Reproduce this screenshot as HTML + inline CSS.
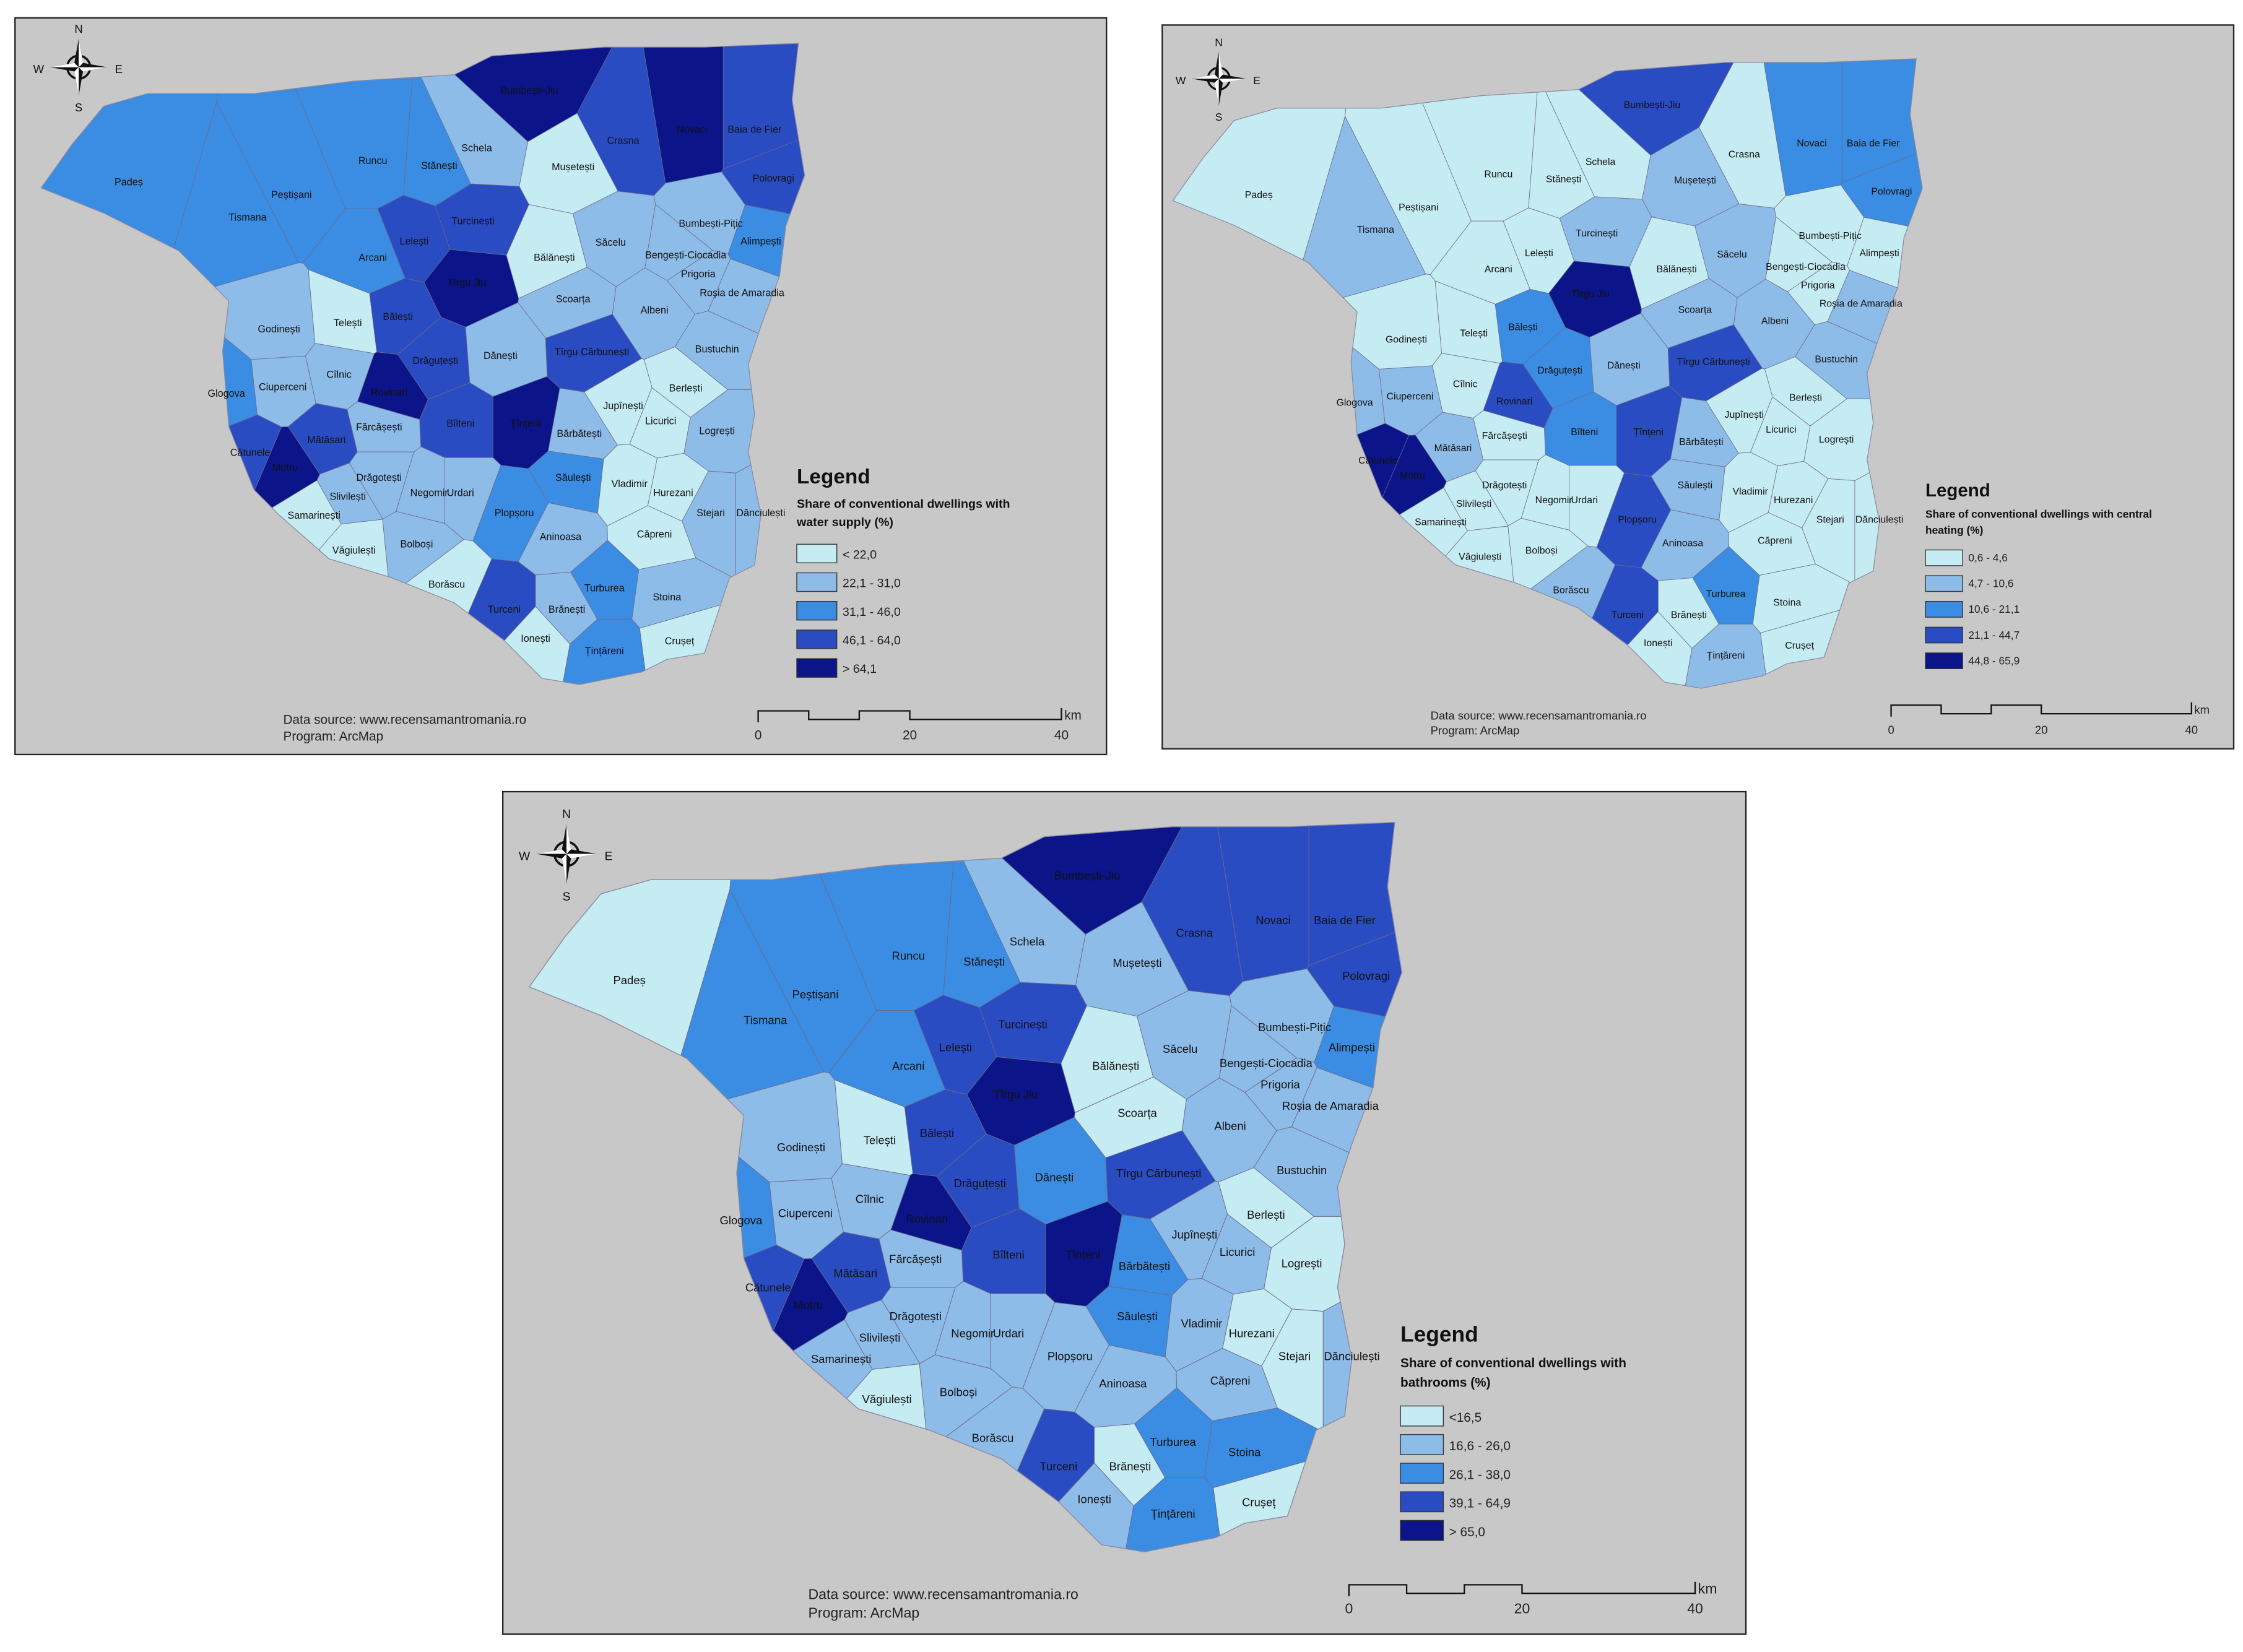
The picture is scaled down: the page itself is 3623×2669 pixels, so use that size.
<!DOCTYPE html>
<html><head><meta charset="utf-8"><style>
html,body{margin:0;padding:0;background:#fff}
svg{display:block}
text{font-family:"Liberation Sans",sans-serif}
</style></head><body>
<svg id="root" width="3623" height="2669" viewBox="0 0 1568 1155" preserveAspectRatio="none" xmlns="http://www.w3.org/2000/svg">
<rect width="1568" height="1155" fill="#fff"/>
<rect x="10.5" y="12.5" width="763" height="515" fill="#c8c8c8" stroke="#222" stroke-width="1"/>
<rect x="812.5" y="17.5" width="749" height="506" fill="#c8c8c8" stroke="#222" stroke-width="1"/>
<rect x="351.5" y="553.5" width="869" height="589" fill="#c8c8c8" stroke="#222" stroke-width="1"/>
<g id="maps"></g>
<g id="deco"></g>
</svg>
<script>
// ---- data ----
const communes = ["Padeș","Tismana","Peștișani","Runcu","Stănești","Schela","Bumbești-Jiu","Crasna","Novaci","Baia de Fier","Polovragi","Mușetești","Turcinești","Arcani","Lelești","Tîrgu Jiu","Bălănești","Săcelu","Bumbești-Pițic","Alimpești","Bengești-Ciocadia","Prigoria","Roșia de Amaradia","Scoarța","Albeni","Godinești","Telești","Bălești","Drăguțești","Dănești","Tîrgu Cărbunești","Bustuchin","Glogova","Ciuperceni","Cîlnic","Rovinari","Berlești","Jupînești","Licurici","Logrești","Bîlteni","Fărcășești","Țînțeni","Bărbătești","Mătăsari","Cătunele","Motru","Drăgotești","Slivilești","Negomir","Urdari","Săulești","Vladimir","Hurezani","Stejari","Dănciulești","Plopșoru","Aninoasa","Căpreni","Samarinești","Văgiulești","Bolboși","Borăscu","Turceni","Brănești","Turburea","Stoina","Ionești","Țințăreni","Crușeț"];
const siteX = [440,535,570,635,688,718,760,835,890,940,955,795,715,635,668,710,780,825,905,945,885,895,930,795,860,560,615,655,685,737,810,910,518,563,608,648,885,835,865,910,705,640,757,800,598,537,565,640,615,680,705,795,840,875,905,945,748,785,860,588,620,670,694,740,790,820,870,765,820,880];
const siteY = [685,713,695,668,672,658,612,652,643,643,682,673,716,745,732,765,745,733,718,732,743,758,773,778,787,802,797,792,827,823,820,818,853,848,838,852,849,863,875,883,877,880,877,885,890,900,912,920,935,932,932,920,925,932,948,948,948,967,965,950,978,973,1005,1025,1025,1008,1015,1048,1058,1050];
const waterClass = [2,2,2,2,2,1,4,3,4,3,3,0,3,2,3,4,0,1,1,2,1,1,1,1,1,1,0,3,3,1,3,1,2,1,1,4,0,0,0,1,3,1,4,1,3,3,4,1,1,1,1,2,0,0,1,1,2,1,0,0,0,1,0,3,1,2,1,0,2,0];
const heatClass  = [0,1,0,0,0,0,3,0,2,2,2,1,1,0,0,4,0,1,0,0,0,0,1,1,1,0,0,2,2,1,3,1,1,1,0,3,0,0,0,0,2,0,3,1,1,4,4,0,0,0,0,1,0,0,0,0,3,1,0,0,0,0,1,3,0,2,0,0,1,0];
const bathClass  = [0,2,2,2,2,1,4,3,3,3,3,1,3,2,3,4,0,1,1,2,1,1,1,0,1,1,0,3,3,2,3,1,2,1,1,4,0,1,1,0,3,1,4,2,3,3,4,1,1,1,1,2,1,0,0,1,1,1,1,1,0,1,1,3,0,2,2,1,2,0];
const waterLegend = ["< 22,0","22,1 - 31,0","31,1 - 46,0","46,1 - 64,0","> 64,1"];
const heatLegend = ["0,6 - 4,6","4,7 - 10,6","10,6 - 21,1","21,1 - 44,7","44,8 - 65,9"];
const bathLegend = ["<16,5","16,6 - 26,0","26,1 - 38,0","39,1 - 64,9","> 65,0"];

const palette = ["#c6ecf3","#8ebce8","#3a8de2","#2a4cc2","#0b1488"];
const outline = [[370,690],[395,655],[420,625],[455,615],[540,615],[620,605],[700,600],[730,585],[820,578],[900,578],[975,575],[970,620],[980,680],[965,720],[960,760],[945,800],[935,830],[940,870],[935,900],[945,950],[940,990],[920,1000],[910,1030],[900,1060],[870,1065],[850,1075],[800,1085],[770,1080],[740,1050],[700,1020],[650,1000],[600,985],[560,950],[540,930],[520,880],[515,820],[520,780],[480,740],[420,710]];
const NS="http://www.w3.org/2000/svg";
function mk(tag,attrs,parent){const e=document.createElementNS(NS,tag);for(const k in attrs)e.setAttribute(k,attrs[k]);parent.appendChild(e);return e;}
function clip(poly,nx,ny,c){
  const out=[];
  for(let i=0;i<poly.length;i++){
    const a=poly[i],b=poly[(i+1)%poly.length];
    const da=nx*a[0]+ny*a[1]-c,db=nx*b[0]+ny*b[1]-c;
    if(da<=0)out.push(a);
    if((da<0&&db>0)||(da>0&&db<0)){const t=da/(da-db);out.push([a[0]+t*(b[0]-a[0]),a[1]+t*(b[1]-a[1])]);}
  }
  return out;
}
const cells=siteX.map((x,i)=>{
  let p=outline.slice();
  for(let j=0;j<siteX.length;j++){if(j===i)continue;
    const nx=siteX[j]-x,ny=siteY[j]-siteY[i];
    const mx=(siteX[j]+x)/2,my=(siteY[j]+siteY[i])/2;
    p=clip(p,nx,ny,nx*mx+ny*my); if(!p.length)break;}
  return p;
});
const maps=document.getElementById('maps');
const deco=document.getElementById('deco');
function drawMap(name,transform,classes){
  const g=mk('g',{transform:transform},maps);
  
  
  cells.forEach((p,i)=>{
    if(p.length<3)return;
    const e=mk('polygon',{points:p.map(q=>q[0].toFixed(1)+','+q[1].toFixed(1)).join(' '),fill:palette[classes[i]],stroke:'#6a6a8a','stroke-width':0.4},g);
    
    
  });
  mk('polygon',{points:outline.map(q=>q.join(',')).join(' '),fill:'none',stroke:'#8a8aa0','stroke-width':0.6},g);
  communes.forEach((n,i)=>{
    const t=mk('text',{x:siteX[i],y:siteY[i]+3,'font-size':8,'text-anchor':'middle',fill:'#111'},g);
    t.textContent=n;
    
    
  });
}
drawMap('map-water-supply','translate(90,127) scale(0.875,0.879) translate(-440,-685)',waterClass);
drawMap('map-central-heating','translate(880,136) scale(0.859,0.863) translate(-440,-685)',heatClass);
drawMap('map-bathrooms','',bathClass);

function legend(name,x,y,title1,title2,labels,bw,bh,step,fs){
  const g=mk('g',{},deco);
  
  
  const t=mk('text',{x:x,y:y,'font-size':fs*1.7,'font-weight':'bold',fill:'#111'},g);t.textContent='Legend';
  const a=mk('text',{x:x,y:y+fs*2,'font-size':fs,'font-weight':'bold',fill:'#111'},g);a.textContent=title1;
  const b=mk('text',{x:x,y:y+fs*3.5,'font-size':fs,'font-weight':'bold',fill:'#111'},g);b.textContent=title2;
  labels.forEach((l,i)=>{
    const r=mk('rect',{x:x,y:y+fs*5+i*step,width:bw,height:bh,fill:palette[i],stroke:'#333','stroke-width':0.6},g);
    
    
    const tt=mk('text',{x:x+bw+4,y:y+fs*5+i*step+bh-3,'font-size':fs,fill:'#222'},g);tt.textContent=l;
  });
}
legend('legend-water-supply',557,338,'Share of conventional dwellings with','water supply (%)',waterLegend,28,13,20,8.5);
legend('legend-central-heating',1346,347,'Share of conventional dwellings with central','heating (%)',heatLegend,26,11,18,7.5);
legend('legend-bathrooms',979,938,'Share of conventional dwellings with','bathrooms (%)',bathLegend,30,14,20,9);

function scalebar(name,x0,x1,y,fs){
  const g=mk('g',{fill:'none',stroke:'#111','stroke-width':1},deco);
  
  
  const w=(x1-x0)/6;
  mk('polyline',{points:`${x0},${y+8} ${x0},${y} ${x0+w},${y} ${x0+w},${y+6} ${x0+2*w},${y+6} ${x0+2*w},${y} ${x0+3*w},${y} ${x0+3*w},${y+6} ${x1},${y+6} ${x1},${y-2}`},g);
  [[x0,'0'],[x0+3*w,'20'],[x1,'40']].forEach(([xx,l])=>{const t=mk('text',{x:xx,y:y+20,'font-size':fs,'text-anchor':'middle',fill:'#222',stroke:'none'},g);t.textContent=l;});
  const k=mk('text',{x:x1+2,y:y+6,'font-size':fs,fill:'#222',stroke:'none'},g);k.textContent='km';
}
scalebar('scalebar-water',530,742,497,9);
scalebar('scalebar-heating',1322,1532,493,8);
scalebar('scalebar-bathrooms',943,1185,1108,10);

function source(name,x,y,fs){
  const g=mk('g',{},deco);
  
  
  const a=mk('text',{x:x,y:y,'font-size':fs,fill:'#222'},g);a.textContent='Data source: www.recensamantromania.ro';
  const b=mk('text',{x:x,y:y+fs*1.3,'font-size':fs,fill:'#222'},g);b.textContent='Program: ArcMap';
}
source('data-source-water',198,506,9);
source('data-source-heating',1000,503,8);
source('data-source-bathrooms',565,1118,10);

function compass(name,cx,cy,s){
  const g=mk('g',{transform:`translate(${cx},${cy}) scale(${s})`},deco);
  
  
  mk('circle',{cx:0,cy:0,r:8,fill:'none',stroke:'#111','stroke-width':1.5},g);
  mk('polygon',{points:'0,-20 3,-3 20,0 3,3 0,20 -3,3 -20,0 -3,-3',fill:'#111'},g);
  mk('polygon',{points:'0,-20 3,-3 0,0',fill:'#fff'},g);
  mk('polygon',{points:'20,0 3,3 0,0',fill:'#fff'},g);
  mk('polygon',{points:'0,20 -3,3 0,0',fill:'#fff'},g);
  mk('polygon',{points:'-20,0 -3,-3 0,0',fill:'#fff'},g);
  [['N',0,-24],['S',0,31],['W',-28,4],['E',28,4]].forEach(([l,x,y])=>{const t=mk('text',{x:x,y:y,'font-size':8,'text-anchor':'middle','font-family':'Liberation Serif',fill:'#111'},g);t.textContent=l;});
}
compass('compass-water',55,47,1);
compass('compass-heating',852,55,0.95);
compass('compass-bathrooms',396,597,1.05);
</script>
</body></html>
